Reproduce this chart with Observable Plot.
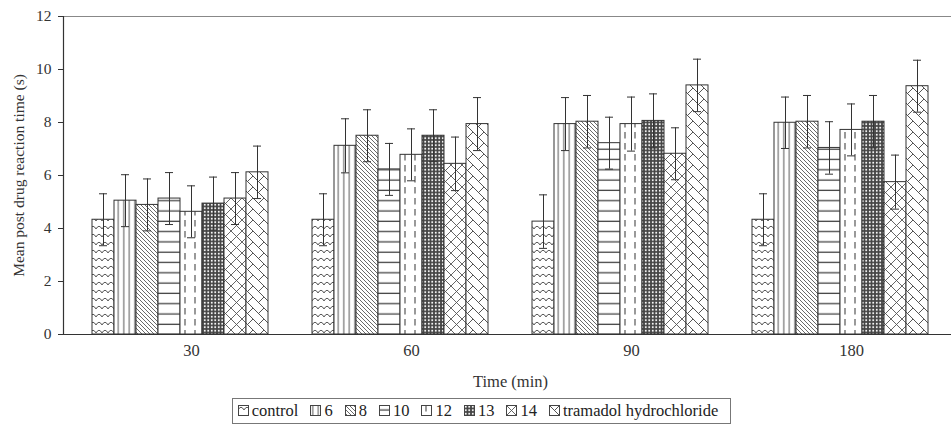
<!DOCTYPE html>
<html>
<head>
<meta charset="utf-8">
<script src="https://cdn.jsdelivr.net/npm/d3@7"></script>
<script src="https://cdn.jsdelivr.net/npm/@observablehq/plot@0.6"></script>
<style>
  html, body { margin: 0; padding: 0; background: #fff; overflow: hidden; }
  body { font-family: "Liberation Serif", serif; width: 951px; height: 425px; position: relative; }
  #chart { width: 957px; }
  #chart svg { max-width: none !important; }
  #legend {
    position: absolute; top: 398px; left: 6px; width: 951px;
    display: flex; justify-content: center;
  }
  #legend .box {
    display: flex; align-items: center; gap: 12px;
    border: 1px solid #777; padding: 2px 12px 3px 5px; height: 19px;
    font-family: "Liberation Serif", serif; font-size: 16.5px; color: #222;
  }
  #legend .item { display: flex; align-items: center; gap: 3px; white-space: nowrap; }
  #legend span { font-family: "Liberation Serif", serif; }
  #legend svg { display: block; }
</style>
</head>
<body>
<svg id="defs" width="0" height="0" style="position:absolute">
  <defs>
    <pattern id="pat0" width="6" height="8" patternUnits="userSpaceOnUse">
      <rect width="6" height="8" fill="#fff"/>
      <path d="M0,5 Q3,-0.5 6,5" fill="none" stroke="#444" stroke-width="0.9"/>
    </pattern>
    <pattern id="pat1" width="5.5" height="10" patternUnits="userSpaceOnUse">
      <rect width="5.5" height="10" fill="#fff"/>
      <line x1="2.75" y1="0" x2="2.75" y2="10" stroke="#555" stroke-width="1"/>
    </pattern>
    <pattern id="pat2" width="4" height="4" patternUnits="userSpaceOnUse">
      <rect width="4" height="4" fill="#fff"/>
      <path d="M0,0L4,4M-1,3L1,5M3,-1L5,1" stroke="#444" stroke-width="0.8"/>
    </pattern>
    <pattern id="pat3" width="10" height="10.3" patternUnits="userSpaceOnUse">
      <rect width="10" height="10.3" fill="#fff"/>
      <line x1="0" y1="5" x2="10" y2="5" stroke="#444" stroke-width="1.3"/>
    </pattern>
    <pattern id="pat4" width="10" height="11" patternUnits="userSpaceOnUse">
      <rect width="10" height="11" fill="#fff"/>
      <line x1="5" y1="0" x2="5" y2="6.5" stroke="#555" stroke-width="1.2"/>
    </pattern>
    <pattern id="pat5" width="3.5" height="3.5" patternUnits="userSpaceOnUse">
      <rect width="3.5" height="3.5" fill="#444"/>
      <circle cx="1.75" cy="1.75" r="1" fill="#fff"/>
    </pattern>
    <pattern id="pat6" width="11" height="11" patternUnits="userSpaceOnUse">
      <rect width="11" height="11" fill="#fff"/>
      <path d="M0,0L11,11M11,0L0,11" stroke="#555" stroke-width="0.9"/>
    </pattern>
    <pattern id="pat7" width="11" height="11" patternUnits="userSpaceOnUse">
      <rect width="11" height="11" fill="#fff"/>
      <path d="M-1,-1L12,12M5.5,5.5L11,0M-1,10L1,12M10,-1L12,1" fill="none" stroke="#555" stroke-width="1"/>
    </pattern>
  </defs>
</svg>
<div id="chart"></div>
<div id="legend"><div class="box"></div></div>
<script>
// ---- data ----
const times = ["30", "60", "90", "180"];
const groups = ["control", "6", "8", "10", "12", "13", "14", "tramadol hydrochloride"];

const meanControl  = [4.33, 4.33, 4.26, 4.33];
const mean6        = [5.05, 7.12, 7.94, 7.99];
const mean8        = [4.89, 7.50, 8.03, 8.03];
const mean10       = [5.13, 6.23, 7.22, 7.04];
const mean12       = [4.63, 6.78, 7.94, 7.72];
const mean13       = [4.94, 7.50, 8.06, 8.03];
const mean14       = [5.13, 6.44, 6.82, 5.75];
const meanTramadol = [6.12, 7.94, 9.40, 9.37];

const errControl  = [0.98, 0.98, 1.01, 0.98];
const err6        = [0.98, 1.02, 1.00, 0.97];
const err8        = [0.98, 0.98, 0.99, 0.99];
const err10       = [0.98, 0.98, 0.98, 0.99];
const err12       = [0.98, 0.98, 1.02, 0.98];
const err13       = [1.00, 0.98, 1.02, 0.99];
const err14       = [0.98, 1.01, 0.98, 1.02];
const errTramadol = [0.99, 1.00, 0.99, 0.98];

const yTicks = [0, 2, 4, 6, 8, 10, 12];
const yLabel = "Mean post drug reaction time (s)";
const xLabel = "Time (min)";

// ---- build table ----
const means = [meanControl, mean6, mean8, mean10, mean12, mean13, mean14, meanTramadol];
const errs  = [errControl, err6, err8, err10, err12, err13, err14, errTramadol];
const key = (t, g) => t + "|" + g;
const data = groups.flatMap((g, i) => times.map((t, j) => ({
  key: key(t, g), series: i, time: t, mean: means[i][j], err: errs[i][j]
})));

// band domain: one empty slot at each outer edge, two between groups
const xDomain = ["edge-start"];
times.forEach((t, j) => {
  groups.forEach(g => xDomain.push(key(t, g)));
  if (j < times.length - 1) xDomain.push("gap-" + j + "-a", "gap-" + j + "-b");
});
xDomain.push("edge-end");
const labelKeys = times.map(t => key(t, groups[4]));

const barMarks = groups.map((g, i) =>
  Plot.barY(data.filter(d => d.series === i), {
    x: "key", y: "mean", fill: `url(#pat${i})`, stroke: "#333", strokeWidth: 1
  })
);

const chart = Plot.plot({
  width: 957, height: 396,
  marginLeft: 63, marginRight: 0, marginTop: 16, marginBottom: 62,
  style: { fontFamily: '"Liberation Serif", serif', fontSize: "15.5px", color: "#333", background: "#fff", overflow: "visible" },
  x: { type: "band", domain: xDomain, padding: 0 },
  y: { domain: [0, 12] },
  marks: [
    ...barMarks,
    Plot.ruleX(data, { x: "key", y1: d => d.mean - d.err, y2: d => d.mean + d.err, stroke: "#333", strokeWidth: 1 }),
    Plot.tickY(data, { x: "key", y: d => d.mean + d.err, stroke: "#333", strokeWidth: 1, insetLeft: 7, insetRight: 7 }),
    Plot.tickY(data, { x: "key", y: d => d.mean - d.err, stroke: "#333", strokeWidth: 1, insetLeft: 7, insetRight: 7 }),
    Plot.ruleY([12], { stroke: "#888", strokeWidth: 1.2 }),
    Plot.ruleY([0], { stroke: "#333", strokeWidth: 1.2 }),
    Plot.frame({ anchor: "left", stroke: "#333", strokeWidth: 1.2 }),
    Plot.axisY({ ticks: yTicks, tickSize: 5, tickPadding: 7, label: yLabel, labelAnchor: "center", labelArrow: "none", labelOffset: 51 }),
    Plot.axisX({ ticks: labelKeys, tickFormat: d => d.split("|")[0], tickSize: 0, tickPadding: 10,
                 label: xLabel, labelAnchor: "center", labelArrow: "none", labelOffset: 52, fontSize: 16.5 })
  ]
});
document.getElementById("chart").appendChild(chart);

// ---- legend ----
const box = document.querySelector("#legend .box");
groups.forEach((g, i) => {
  const item = document.createElement("div");
  item.className = "item";
  item.innerHTML = `<svg width="11" height="11"><rect x="0.5" y="0.5" width="10" height="10" fill="url(#pat${i})" stroke="#444"/></svg><span>${g}</span>`;
  box.appendChild(item);
});
</script>
</body>
</html>
